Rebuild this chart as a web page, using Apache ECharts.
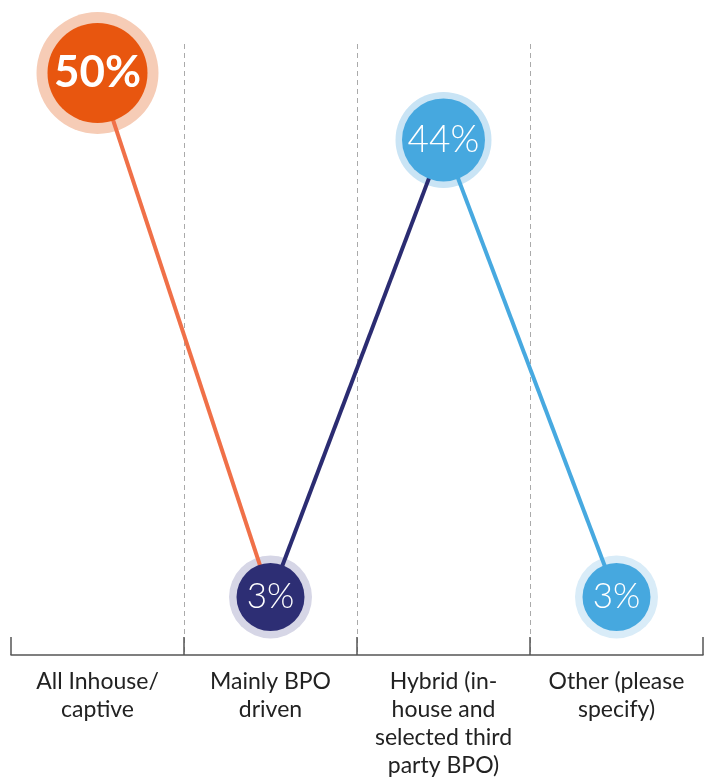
<!DOCTYPE html>
<html>
<head>
<meta charset="utf-8">
<script src="https://cdn.jsdelivr.net/npm/echarts@6/dist/echarts.min.js"></script>
<style>
  html, body { margin: 0; padding: 0; background: #fff; }
  #main { width: 712px; height: 782px; }
</style>
</head>
<body>
<div id="main"></div>
<script>
// data
var categories = ['All Inhouse/\ncaptive', 'Mainly BPO\ndriven', 'Hybrid (in-\nhouse and\nselected third\nparty BPO)', 'Other (please\nspecify)'];
var values = [50, 3, 44, 3];
var labels = ['50%', '3%', '44%', '3%'];

// look
var dotColors = ['#e8560f', '#2d2e74', '#46a8df', '#46a8df'];
var haloColors = ['#f6ccb6', '#d6d6e6', '#c9e4f5', '#d9ecf8'];
var lineColors = ['#f07048', '#2b2c72', '#47a9e0'];
var outerSize = [122, 83, 96, 83];
var innerSize = [100, 68, 83, 68];
var labelSize = [44, 35, 37, 35];

var myChart = echarts.init(document.getElementById('main'));

var series = [];

// halo behind everything
series.push({
	type: 'scatter',
	z: 1,
	silent: true,
	data: values.map(function (v, i) {
		return {value: v, symbolSize: outerSize[i], itemStyle: {color: haloColors[i], opacity: 1}};
	})
});

// one line per segment, coloured like the point it starts from
for (var s = 0; s < values.length - 1; s++) {
	var d = values.map(function (v, i) {
		return (i === s || i === s + 1) ? v : null;
	});
	series.push({
		type: 'line',
		z: 2,
		data: d,
		showSymbol: false,
		connectNulls: false,
		lineStyle: {color: lineColors[s], width: 4},
		silent: true
	});
}

// inner dots with the labels
series.push({
	type: 'scatter',
	z: 3,
	silent: true,
	data: values.map(function (v, i) {
		return {
			value: v,
			symbolSize: innerSize[i],
			itemStyle: {color: dotColors[i], opacity: 1},
			label: {
				show: true,
				position: 'inside',
				formatter: labels[i],
				color: '#fff',
				fontFamily: 'Lato',
				fontWeight: i === 0 ? 'bold' : 300,
				fontSize: labelSize[i]
			}
		};
	})
});

var option = {
	animation: false,
	grid: {left: 11, right: 9, top: 44, bottom: 127},
	xAxis: {
		type: 'category',
		data: categories,
		boundaryGap: true,
		axisLine: {onZero: false, lineStyle: {color: '#555', width: 1.5}},
		axisTick: {show: true, inside: true, length: 18, lineStyle: {color: '#555', width: 1.5}},
		axisLabel: {
			interval: 0,
			margin: 13,
			color: '#222',
			fontFamily: 'Lato',
			fontSize: 23,
			lineHeight: 28
		},
		splitLine: {
			show: true,
			showMinLine: false,
			showMaxLine: false,
			lineStyle: {color: '#aaa', type: [5, 4], width: 1}
		}
	},
	yAxis: {
		type: 'value',
		show: false,
		min: -2.2,
		max: 52.6,
		splitLine: {show: false}
	},
	series: series
};

myChart.setOption(option);
</script>
</body>
</html>
